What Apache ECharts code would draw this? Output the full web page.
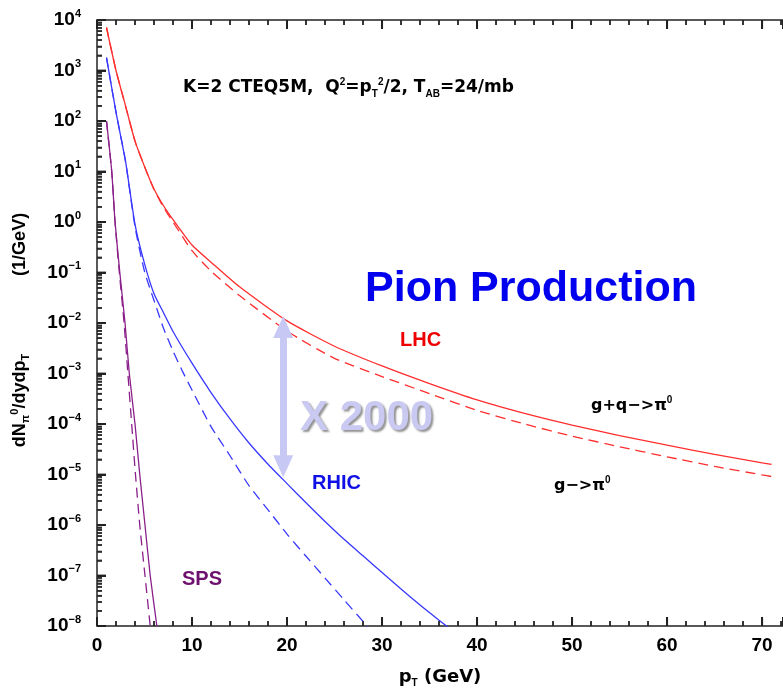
<!DOCTYPE html>
<html>
<head>
<meta charset="utf-8">
<script src="https://cdn.jsdelivr.net/npm/echarts@6/dist/echarts.min.js"></script>
<style>
html, body { margin: 0; padding: 0; background: #fff; }
#chart { width: 783px; height: 693px; }
</style>
</head>
<body>
<div id="chart"></div>
<script>
// pT values (GeV) and spectra
const lhcPt = [1, 2, 3, 4, 5, 6, 7, 8, 10, 12, 15, 20, 25, 30, 35, 40, 45, 50, 55, 60, 65, 70, 71];
const lhcGQ = [7.1e3, 1.0e3, 2.0e2, 40, 12.6, 4.5, 2.1, 1.12, 0.35, 0.16, 0.052, 0.011, 3.47e-3, 1.41e-3, 6.3e-4, 3.0e-4, 1.62e-4, 9.5e-5, 5.9e-5, 3.8e-5, 2.5e-5, 1.7e-5, 1.58e-5];
const lhcG  = [7.1e3, 1.0e3, 2.0e2, 40, 12.6, 4.4, 1.95, 1.0, 0.27, 0.107, 0.035, 6.9e-3, 2.0e-3, 8.7e-4, 4.0e-4, 1.86e-4, 1.0e-4, 5.75e-5, 3.55e-5, 2.24e-5, 1.45e-5, 9.8e-6, 9.1e-6];

const rhicPt = [1, 2, 3, 4, 5, 6, 7, 8, 10, 12, 14, 16, 18, 20, 22, 24, 26, 28, 30, 32, 34, 36, 37];
const rhicGQ = [1.8e3, 150, 16, 0.9, 0.15, 0.038, 0.016, 6.8e-3, 1.6e-3, 4.2e-4, 1.26e-4, 4.2e-5, 1.6e-5, 6.6e-6, 2.75e-6, 1.17e-6, 5.2e-7, 2.45e-7, 1.15e-7, 5.4e-8, 2.6e-8, 1.3e-8, 9.3e-9];
const rhicGPt = [1, 2, 3, 4, 5, 6, 7, 8, 9, 10, 12, 14, 16, 18, 20, 22, 24, 26, 28, 28.5];
const rhicG  = [1.8e3, 150, 16, 0.8, 0.105, 0.028, 7.9e-3, 2.8e-3, 1.1e-3, 4.7e-4, 8.9e-5, 2.35e-5, 6.0e-6, 2.0e-6, 6.6e-7, 2.4e-7, 8.9e-8, 3.3e-8, 1.23e-8, 9.5e-9];

const spsY    = [100, 10, 1, 0.1, 0.01, 1e-3, 1e-4, 1e-5, 1e-6, 1e-7, 1e-8];
const spsPtGQ = [1, 1.55, 1.9, 2.4, 2.95, 3.4, 4.0, 4.5, 5.05, 5.6, 6.3];
const spsPtG  = [1, 1.55, 1.9, 2.35, 2.85, 3.25, 3.65, 4.05, 4.5, 5.05, 5.6];

// "X 2000" arrow between the LHC and RHIC curves (head centres)
const arrowPt = 19.6;
const arrowTop = 8.3e-3;
const arrowBottom = 1.45e-5;

// ticks
const X_MIN = 0, X_MAX = 72.2, Y_MIN = 1e-8, Y_MAX = 1e4;
const xMajor = [0, 10, 20, 30, 40, 50, 60, 70];
const xMinor = [2, 4, 6, 8, 12, 14, 16, 18, 22, 24, 26, 28, 32, 34, 36, 38, 42, 44, 46, 48, 52, 54, 56, 58, 62, 64, 66, 68, 72];
const yMajor = [1e-8, 1e-7, 1e-6, 1e-5, 1e-4, 1e-3, 1e-2, 1e-1, 1, 10, 100, 1e3, 1e4];
const yMinor = [];
for (let e = -8; e < 4; e++) {
    for (let k = 2; k <= 9; k++) yMinor.push(k * Math.pow(10, e));
}

const zip = (xs, ys) => xs.map((x, i) => [x, ys[i]]);

const FONT = 'Liberation Sans, Arial, sans-serif';
const WIDE = 'DejaVu Sans, sans-serif';
const RED = '#ff2e2e', BLUE = '#3838ff', PURPLE = '#8a1f8a';
const INK = '#222222';

const chart = echarts.init(document.getElementById('chart'));

function xAxisAt(pos, withLabels) {
    return {
        type: 'value', min: X_MIN, max: X_MAX, interval: 10, position: pos,
        splitLine: { show: false },
        axisLine: { show: true, lineStyle: { color: INK, width: 1.5 } },
        axisTick: { show: true, inside: true, length: 9, lineStyle: { color: INK, width: 2 } },
        minorTick: { show: true, splitNumber: 5, length: 5, lineStyle: { color: INK, width: 1.5 } },
        axisLabel: withLabels
            ? { showMaxLabel: false, color: '#000', fontSize: 19, fontWeight: 'bold', fontFamily: FONT, margin: 10 }
            : { show: false }
    };
}

function lineSeries(name, data, color, dashed) {
    return {
        name: name, type: 'line', data: data,
        xAxisIndex: 0, yAxisIndex: 0,
        showSymbol: false, symbol: 'none', smooth: 0.2,
        clip: true, silent: true,
        lineStyle: { color: color, width: 1.3, type: dashed ? [10, 6] : 'solid' }
    };
}

// tick marks drawn as thin rects on the frame, placed through the axes
function tickSeries(data, size, offset) {
    return {
        type: 'scatter', data: data, xAxisIndex: 0, yAxisIndex: 0,
        symbol: 'rect', symbolSize: size, symbolOffset: offset,
        clip: false, silent: true, z: 5,
        itemStyle: { color: INK }
    };
}

const sup = { fontSize: 11, fontWeight: 'bold', fontFamily: FONT, color: '#000', lineHeight: 12, verticalAlign: 'top' };
const sub = { fontSize: 11, fontWeight: 'bold', fontFamily: FONT, color: '#000', lineHeight: 10, verticalAlign: 'bottom' };

chart.setOption({
    animation: false,
    backgroundColor: '#fff',
    grid: { left: 97, right: 0, top: 20, bottom: 61 },
    xAxis: [
        Object.assign(xAxisAt('bottom', true), {
            name: '{b|p}{s|T}{b| (GeV)}',
            nameLocation: 'middle', nameGap: 40,
            nameTextStyle: {
                rich: {
                    b: { fontSize: 18, fontWeight: 'bold', fontFamily: WIDE, color: '#000', lineHeight: 22 },
                    s: { fontSize: 10, fontWeight: 'bold', fontFamily: FONT, color: '#000', lineHeight: 10, verticalAlign: 'bottom' }
                }
            }
        }),
        xAxisAt('top', false)
    ],
    yAxis: [
        {
            type: 'log', logBase: 10, min: Y_MIN, max: Y_MAX, position: 'left',
            splitLine: { show: false },
            axisLine: { show: true, lineStyle: { color: INK, width: 1.5 } },
            axisTick: { show: true, inside: true, length: 9, lineStyle: { color: INK, width: 2 }, customValues: yMajor },
            axisLabel: {
                customValues: yMajor, margin: 16,
                formatter: function (v) {
                    const e = Math.round(Math.log10(v));
                    return '{b|10}{e|' + (e < 0 ? '\u2212' + (-e) : e) + '}';
                },
                rich: {
                    b: { fontSize: 19, fontWeight: 'bold', fontFamily: FONT, color: '#000', lineHeight: 24 },
                    e: { fontSize: 11, fontWeight: 'bold', fontFamily: FONT, color: '#000', lineHeight: 12, verticalAlign: 'top' }
                }
            },
            name: '{b|dN}{s|\u03c0}{e|0}{b|/dydp}{s|T}{g|}{b|(1/GeV)}{pad|}',
            nameLocation: 'middle', nameGap: 66,
            nameTextStyle: {
                rich: {
                    b: { fontSize: 18, fontWeight: 'bold', fontFamily: FONT, color: '#000', lineHeight: 22 },
                    s: sub, e: sup,
                    g: { width: 78 },
                    pad: { width: 14 }
                }
            }
        },
        {
            type: 'log', logBase: 10, min: Y_MIN, max: Y_MAX, position: 'left',
            splitLine: { show: false },
            axisLine: { show: false },
            axisLabel: { show: false, customValues: yMinor },
            axisTick: { show: true, inside: true, length: 5, lineStyle: { color: INK, width: 1.5 }, customValues: yMinor }
        }
    ],
    series: [
        lineSeries('LHC g+q', zip(lhcPt, lhcGQ), RED, false),
        lineSeries('LHC g', zip(lhcPt, lhcG), RED, true),
        lineSeries('RHIC g+q', zip(rhicPt, rhicGQ), BLUE, false),
        lineSeries('RHIC g', zip(rhicGPt, rhicG), BLUE, true),
        lineSeries('SPS g+q', zip(spsPtGQ, spsY), PURPLE, false),
        lineSeries('SPS g', zip(spsPtG, spsY), PURPLE, true),
        {
            name: 'ratio', type: 'line', data: [], xAxisIndex: 0, yAxisIndex: 0, silent: true,
            markLine: {
                silent: true, animation: false,
                symbol: ['triangle', 'triangle'], symbolSize: [20, 22],
                label: { show: false },
                lineStyle: { color: '#c8c8f5', width: 7, type: 'solid' },
                data: [[{ coord: [arrowPt, arrowTop] }, { coord: [arrowPt, arrowBottom] }]]
            }
        },
        tickSeries(xMajor.map(x => [x, Y_MIN]), [2, 9], [0, -4.5]),
        tickSeries(xMinor.map(x => [x, Y_MIN]), [1.5, 5], [0, -2.5]),
        tickSeries(xMajor.map(x => [x, Y_MAX]), [2, 9], [0, 4.5]),
        tickSeries(xMinor.map(x => [x, Y_MAX]), [1.5, 5], [0, 2.5]),
        tickSeries(yMajor.map(y => [X_MIN, y]), [9, 2], [4.5, 0]),
        tickSeries(yMinor.map(y => [X_MIN, y]), [5, 1.5], [2.5, 0])
    ],
    graphic: [
        {
            type: 'text', left: 183, top: 77,
            style: {
                text: '{b|K=2 CTEQ5M,  Q}{e|2}{b|=p}{s|T}{e|2}{b|/2, T}{s|AB}{b|=24/mb}',
                rich: {
                    b: { fontSize: 17, fontWeight: 'bold', fontFamily: WIDE, fill: '#000', lineHeight: 22 },
                    e: { fontSize: 10, fontWeight: 'bold', fontFamily: FONT, fill: '#000', lineHeight: 11, verticalAlign: 'top' },
                    s: { fontSize: 10, fontWeight: 'bold', fontFamily: FONT, fill: '#000', lineHeight: 9, verticalAlign: 'bottom' }
                }
            }
        },
        {
            type: 'text', left: 365, top: 268,
            style: { text: 'Pion Production', fill: '#0000ee', font: 'bold 43px ' + FONT }
        },
        {
            type: 'text', left: 400, top: 330,
            style: { text: 'LHC', fill: '#ee0000', font: 'bold 20px ' + FONT }
        },
        {
            type: 'text', left: 300, top: 397,
            style: {
                text: 'X 2000', fill: '#c9c9f2', font: 'bold 42px ' + FONT,
                textShadowColor: 'rgba(120,120,120,0.8)', textShadowOffsetX: 2, textShadowOffsetY: 2, textShadowBlur: 2
            }
        },
        {
            type: 'text', left: 312, top: 473,
            style: { text: 'RHIC', fill: '#1010e6', font: 'bold 20px ' + FONT }
        },
        {
            type: 'text', left: 182, top: 569,
            style: { text: 'SPS', fill: '#6e106e', font: 'bold 20px ' + FONT }
        },
        {
            type: 'text', left: 591, top: 395,
            style: {
                text: '{b|g+q\u2212>\u03c0}{e|0}',
                rich: {
                    b: { fontSize: 16, fontWeight: 'bold', fontFamily: WIDE, fill: '#000', lineHeight: 22 },
                    e: { fontSize: 10, fontWeight: 'bold', fontFamily: FONT, fill: '#000', lineHeight: 11, verticalAlign: 'top' }
                }
            }
        },
        {
            type: 'text', left: 554, top: 475,
            style: {
                text: '{b|g\u2212>\u03c0}{e|0}',
                rich: {
                    b: { fontSize: 16, fontWeight: 'bold', fontFamily: WIDE, fill: '#000', lineHeight: 22 },
                    e: { fontSize: 10, fontWeight: 'bold', fontFamily: FONT, fill: '#000', lineHeight: 11, verticalAlign: 'top' }
                }
            }
        }
    ]
});
</script>
</body>
</html>
